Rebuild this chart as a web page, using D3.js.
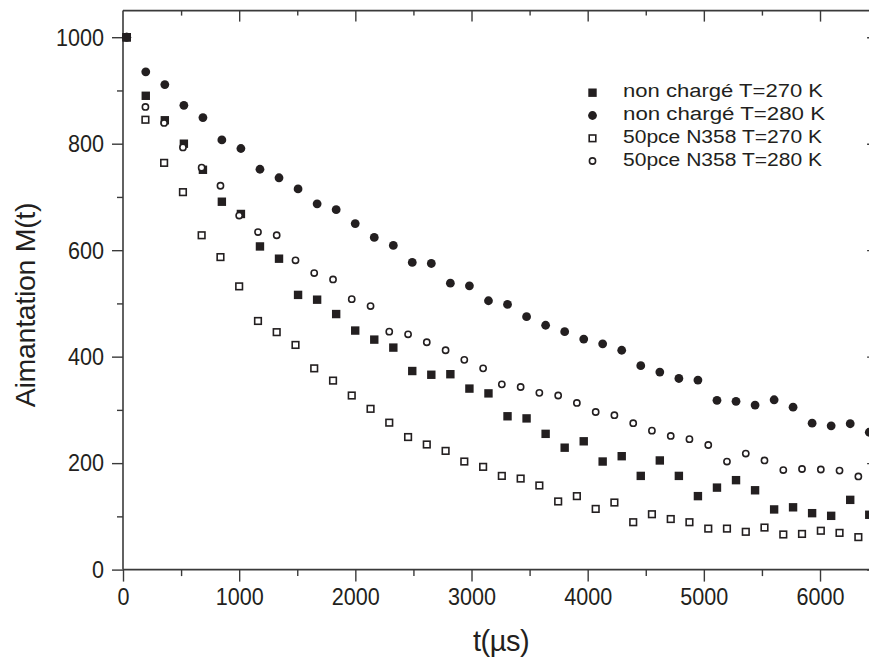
<!DOCTYPE html>
<html>
<head>
<meta charset="utf-8">
<script src="https://cdn.jsdelivr.net/npm/d3@7"></script>
<style>
  html, body { margin: 0; padding: 0; background: #fff; }
  svg { display: block; }
  text { font-family: "Liberation Sans", Arial, Helvetica, sans-serif; fill: #231f20; }
</style>
</head>
<body>
<svg id="chart" width="869" height="657"></svg>
<script>
// ---------- data ----------
const tFilled = [32, 196, 360, 524, 688, 851, 1015, 1179, 1343, 1507, 1671, 1835, 1999, 2163, 2327, 2490, 2654, 2818, 2982, 3146,
                 3310, 3474, 3638, 3802, 3966, 4129, 4293, 4457, 4621, 4785, 4949, 5113, 5277, 5441, 5605, 5768, 5932, 6096, 6260, 6424];
const tOpen   = [31, 193, 354, 516, 677, 839, 1000, 1162, 1323, 1485, 1646, 1808, 1969, 2131, 2292, 2454, 2615, 2777, 2938, 3100,
                 3261, 3423, 3584, 3746, 3907, 4069, 4230, 4392, 4553, 4715, 4876, 5038, 5199, 5361, 5522, 5684, 5845, 6007, 6168, 6330];

const nonCharge270 = [1000, 890, 844, 800, 751, 691, 668, 607, 584, 516, 507, 480, 449, 432, 417, 373, 366, 367, 340, 331,
                      288, 284, 255, 229, 241, 203, 213, 176, 205, 176, 138, 154, 168, 149, 113, 117, 106, 101, 131, 103];
const nonCharge280 = [1000, 935, 911, 872, 849, 807, 791, 752, 736, 715, 687, 676, 650, 624, 609, 577, 575, 538, 533, 505,
                      498, 475, 459, 447, 433, 424, 412, 383, 371, 359, 356, 318, 316, 309, 319, 305, 275, 270, 274, 258];
const n358_270 = [1000, 845, 764, 709, 628, 587, 532, 467, 446, 422, 378, 355, 327, 302, 276, 249, 235, 223, 203, 193,
                  176, 171, 158, 128, 138, 114, 126, 89, 104, 95, 89, 77, 77, 71, 79, 66, 67, 73, 69, 61];
const n358_280 = [1000, 869, 839, 793, 755, 721, 665, 634, 628, 581, 557, 545, 508, 495, 447, 442, 427, 412, 394, 378,
                  348, 343, 332, 327, 313, 296, 290, 275, 261, 251, 245, 234, 203, 218, 205, 187, 189, 188, 186, 175];

const seriesNames = ["non chargé T=270 K", "non chargé T=280 K", "50pce N358 T=270 K", "50pce N358 T=280 K"];
const xMajor = [0, 1000, 2000, 3000, 4000, 5000, 6000];
const xMinor = [500, 1500, 2500, 3500, 4500, 5500, 6500];
const yMajor = [0, 200, 400, 600, 800, 1000];
const yMinor = [100, 300, 500, 700, 900];
const xTitle = "t(µs)";
const yTitle = "Aimantation M(t)";

// ---------- drawing ----------
const svg = d3.select("#chart");
const ink = "#231f20";
const axisInk = "#3a3a3a";

const x = d3.scaleLinear().domain([0, 6500]).range([123, 878.1]);
const y = d3.scaleLinear().domain([0, 1050]).range([569.6, 10.6]);

function styleAxis(g) {
  g.select(".domain").remove();
  g.selectAll(".tick line").attr("stroke", axisInk).attr("stroke-width", 1.4);
}

// left axis
const gl = svg.append("g").attr("transform", `translate(${x(0)},0)`);
gl.call(d3.axisLeft(y).tickValues(yMajor).tickSize(11).tickSizeOuter(0).tickPadding(8).tickFormat(d3.format("d")))
  .call(styleAxis);
gl.selectAll(".tick text").attr("font-size", 24.5).attr("fill", ink)
  .attr("textLength", d => String(d).length * 12).attr("lengthAdjust", "spacingAndGlyphs")
  .attr("font-family", "'Liberation Sans', Arial, sans-serif");
svg.append("g").attr("transform", `translate(${x(0)},0)`)
  .call(d3.axisLeft(y).tickValues(yMinor).tickSize(6).tickSizeOuter(0).tickFormat(""))
  .call(styleAxis);

// bottom axis
const gb = svg.append("g").attr("transform", `translate(0,${y(0)})`);
gb.call(d3.axisBottom(x).tickValues(xMajor).tickSize(12).tickSizeOuter(0).tickPadding(6.5).tickFormat(d3.format("d")))
  .call(styleAxis);
gb.selectAll(".tick text").attr("font-size", 24.5).attr("fill", ink)
  .attr("textLength", d => String(d).length * 12).attr("lengthAdjust", "spacingAndGlyphs")
  .attr("font-family", "'Liberation Sans', Arial, sans-serif");
svg.append("g").attr("transform", `translate(0,${y(0)})`)
  .call(d3.axisBottom(x).tickValues(xMinor).tickSize(6.5).tickSizeOuter(0).tickFormat(""))
  .call(styleAxis);

// top axis (inward ticks)
svg.append("g").attr("transform", `translate(0,${y(1050)})`)
  .call(d3.axisBottom(x).tickValues(xMajor.filter(d => d > 0)).tickSize(11).tickSizeOuter(0).tickFormat(""))
  .call(styleAxis);
svg.append("g").attr("transform", `translate(0,${y(1050)})`)
  .call(d3.axisBottom(x).tickValues(xMinor).tickSize(5).tickSizeOuter(0).tickFormat(""))
  .call(styleAxis);

// right axis (inward ticks)
svg.append("g").attr("transform", `translate(${x(6500)},0)`)
  .call(d3.axisLeft(y).tickValues(yMajor).tickSize(11).tickSizeOuter(0).tickFormat(""))
  .call(styleAxis);
svg.append("g").attr("transform", `translate(${x(6500)},0)`)
  .call(d3.axisLeft(y).tickValues(yMinor).tickSize(5).tickSizeOuter(0).tickFormat(""))
  .call(styleAxis);

// frame lines
const frame = svg.append("g").attr("stroke", axisInk).attr("stroke-width", 1.6).attr("fill", "none");
frame.append("line").attr("x1", x(0)).attr("x2", x(6500)).attr("y1", y(0)).attr("y2", y(0));
frame.append("line").attr("x1", x(0)).attr("x2", x(6500)).attr("y1", y(1050)).attr("y2", y(1050));
frame.append("line").attr("x1", x(0)).attr("x2", x(0)).attr("y1", y(0)).attr("y2", y(1050));
frame.append("line").attr("x1", x(6500)).attr("x2", x(6500)).attr("y1", y(0)).attr("y2", y(1050));

// axis titles
svg.append("text").attr("x", 501).attr("y", 651).attr("text-anchor", "middle")
  .attr("font-size", 29).attr("letter-spacing", -0.5).text(xTitle);
svg.append("text").attr("transform", "translate(35,305) rotate(-90)").attr("text-anchor", "middle")
  .attr("font-size", 28.5).attr("letter-spacing", -0.3).text(yTitle);

// marker drawers
const sym = {
  fsq: (g, cx, cy) => g.append("rect").attr("x", cx - 4.2).attr("y", cy - 4.2).attr("width", 8.4).attr("height", 8.4).attr("fill", ink),
  fci: (g, cx, cy) => g.append("circle").attr("cx", cx).attr("cy", cy).attr("r", 4.4).attr("fill", ink),
  osq: (g, cx, cy) => g.append("rect").attr("x", cx - 3.3).attr("y", cy - 3.3).attr("width", 6.6).attr("height", 6.6)
                        .attr("fill", "#fff").attr("stroke", ink).attr("stroke-width", 1.6),
  oci: (g, cx, cy) => g.append("circle").attr("cx", cx).attr("cy", cy).attr("r", 3.1)
                        .attr("fill", "#fff").attr("stroke", ink).attr("stroke-width", 1.6)
};

const series = [
  { t: tFilled, v: nonCharge270, s: "fsq" },
  { t: tFilled, v: nonCharge280, s: "fci" },
  { t: tOpen,   v: n358_270,     s: "osq" },
  { t: tOpen,   v: n358_280,     s: "oci" }
];

const plot = svg.append("g");
series.forEach(se => {
  const g = plot.append("g");
  se.v.forEach((v, i) => sym[se.s](g, x(se.t[i]), y(v)));
});
// t=0 point drawn on top as in the reference
sym.fci(plot, x(tFilled[0]), y(nonCharge280[0]));
sym.fsq(plot, x(tFilled[0]), y(nonCharge270[0]));

// legend
const legY = [92.7, 115.5, 138.3, 161];
const legLen = [200, 202, 199, 199];
const leg = svg.append("g");
series.forEach((se, i) => {
  sym[se.s](leg, 592.5, legY[i]);
  leg.append("text").attr("x", 623).attr("y", legY[i] + 4.5)
    .attr("font-size", 18)
    .attr("textLength", legLen[i]).attr("lengthAdjust", "spacingAndGlyphs")
    .text(seriesNames[i]);
});
</script>
</body>
</html>
